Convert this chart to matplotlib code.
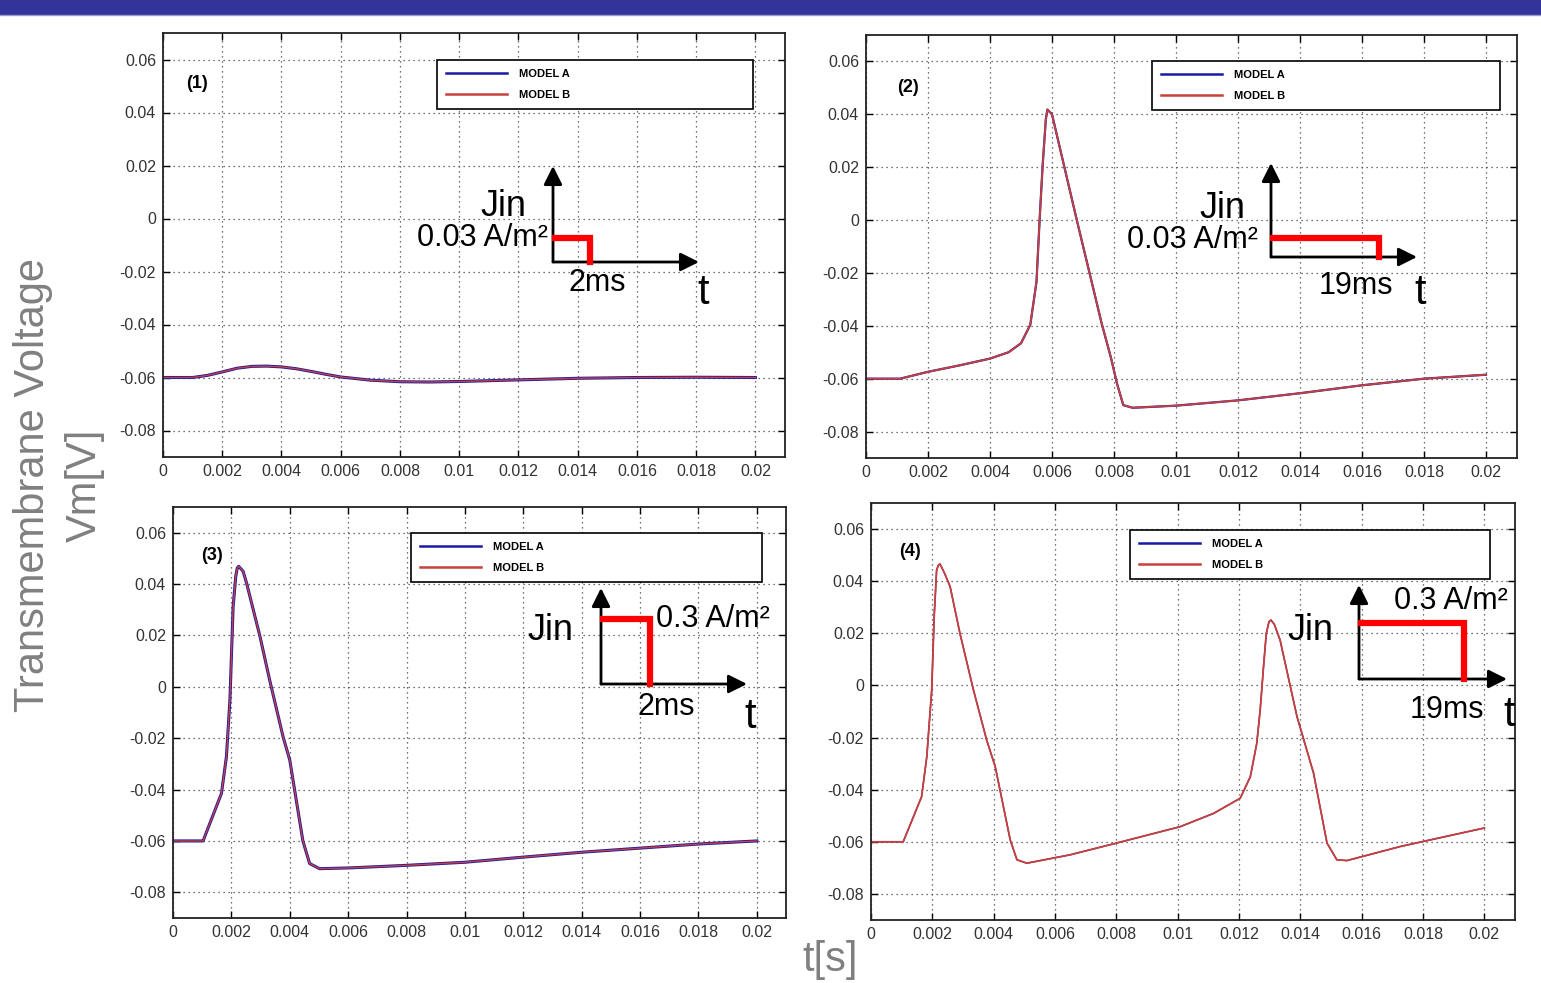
import matplotlib
matplotlib.use('Agg')
import matplotlib.pyplot as plt
from matplotlib.lines import Line2D
from matplotlib.patches import Rectangle, FancyArrowPatch

plt.rcParams['font.family'] = ['Liberation Sans', 'DejaVu Sans']

W, H = 1541, 983

# ---- data (t in s, Vm in V) ----
t1 = [0, 0.001, 0.0015, 0.002, 0.0025, 0.003, 0.0035, 0.004, 0.0045, 0.005, 0.0055,
      0.006, 0.007, 0.008, 0.009, 0.010, 0.011, 0.012, 0.013, 0.014, 0.016, 0.018, 0.020]
v1 = [-0.060, -0.060, -0.0592, -0.0579, -0.0565, -0.0558, -0.0557, -0.0560, -0.0567,
      -0.0577, -0.0588, -0.0598, -0.0610, -0.0616, -0.0617, -0.0615, -0.0612, -0.0609,
      -0.0606, -0.0603, -0.0600, -0.0599, -0.0600]

t2 = [0, 0.0011, 0.002, 0.003, 0.004, 0.0046, 0.005, 0.0053, 0.0055, 0.0056, 0.0057,
      0.0058, 0.00585, 0.0060, 0.0068, 0.0076, 0.0079, 0.0081, 0.0083, 0.0086, 0.010,
      0.012, 0.014, 0.016, 0.018, 0.020]
v2 = [-0.060, -0.060, -0.0574, -0.0550, -0.0524, -0.0500, -0.0466, -0.0396, -0.0233,
      0.0, 0.021, 0.038, 0.0418, 0.0400, 0.0, -0.0390, -0.0520, -0.0620, -0.0700,
      -0.0710, -0.0702, -0.0682, -0.0655, -0.0625, -0.0600, -0.0585]

t3 = [0, 0.00103, 0.00166, 0.00183, 0.00195, 0.00206, 0.00215, 0.0022, 0.00225, 0.0024,
      0.00252, 0.00298, 0.00331, 0.00377, 0.0040, 0.00445, 0.00468, 0.00502, 0.00604,
      0.008, 0.010, 0.012, 0.014, 0.016, 0.018, 0.020]
v3 = [-0.060, -0.060, -0.0415, -0.0272, -0.0051, 0.0312, 0.0430, 0.0462, 0.0469, 0.0450,
      0.0404, 0.0196, 0.0027, -0.0194, -0.0285, -0.0600, -0.0688, -0.0708, -0.0705,
      -0.0695, -0.0683, -0.0663, -0.0644, -0.0628, -0.0612, -0.0600]

t4 = [0, 0.00105, 0.00165, 0.00182, 0.00198, 0.00206, 0.00214, 0.0022, 0.00225, 0.0024,
      0.00258, 0.0029, 0.00334, 0.00377, 0.00405, 0.00454, 0.00476, 0.00508, 0.00649,
      0.0080, 0.01008, 0.01117, 0.01204, 0.01237, 0.01258, 0.01269, 0.0128, 0.01289,
      0.01298, 0.01304, 0.01315, 0.01334, 0.01389, 0.01443, 0.01487, 0.01519, 0.01552,
      0.01726, 0.020]
v4 = [-0.060, -0.060, -0.0427, -0.0273, -0.0017, 0.0264, 0.0443, 0.0462, 0.0466, 0.0430,
      0.0379, 0.0200, -0.0017, -0.0209, -0.0311, -0.0593, -0.0669, -0.0682, -0.0650,
      -0.0605, -0.0542, -0.0491, -0.0433, -0.0350, -0.0222, -0.0095, 0.0072, 0.0200,
      0.0245, 0.0251, 0.0235, 0.0174, -0.0119, -0.0336, -0.0605, -0.0669, -0.0672,
      -0.0618, -0.0547]

xticks = [0, 0.002, 0.004, 0.006, 0.008, 0.01, 0.012, 0.014, 0.016, 0.018, 0.02]
xticklabels = ['0', '0.002', '0.004', '0.006', '0.008', '0.01', '0.012', '0.014',
               '0.016', '0.018', '0.02']
yticks = [-0.08, -0.06, -0.04, -0.02, 0, 0.02, 0.04, 0.06]
yticklabels = ['-0.08', '-0.06', '-0.04', '-0.02', '0', '0.02', '0.04', '0.06']

panel_labels = ['(1)', '(2)', '(3)', '(4)']
series_names = ['MODEL A', 'MODEL B']


def fx(x):
    return x / W


def fy(y):
    return 1 - y / H


fig = plt.figure(figsize=(W / 100, H / 100), dpi=100)

# top banner
fig.add_artist(Rectangle((0, fy(14)), 1, 14 / H, transform=fig.transFigure,
                         color='#333399', zorder=0))
fig.add_artist(Line2D([0, 1], [fy(15), fy(15)], transform=fig.transFigure,
                      color='#9999cc', lw=1))

# axes boxes in pixels: left, right, top, bottom
boxes = [(163, 785, 33, 457), (866, 1517, 35, 458),
         (173, 786, 507, 918), (871, 1515, 503, 920)]
legend_boxes = [(437, 753, 60, 110), (1152, 1500, 61, 114),
                (411, 762, 533, 588), (1130, 1490, 530, 585)]
label_pos = [(197, 83), (908, 87), (212, 555), (910, 552)]
data = [(t1, v1), (t2, v2), (t3, v3), (t4, v4)]
lw_a = [2.2, 1.6, 2.2, 1.0]
lw_b = [1.0, 1.3, 1.0, 1.3]

for i in range(4):
    l, r, t, b = boxes[i]
    ax = fig.add_axes([fx(l), fy(b), (r - l) / W, (b - t) / H])
    tt, vv = data[i]
    ax.plot(tt, vv, color='#1a1aa6', lw=lw_a[i], label=series_names[0])
    ax.plot(tt, vv, color='#c8403c', lw=lw_b[i], label=series_names[1])
    ax.set_xlim(0, 0.021)
    ax.set_ylim(-0.09, 0.07)
    ax.set_xticks(xticks)
    ax.set_xticklabels(xticklabels)
    ax.set_yticks(yticks)
    ax.set_yticklabels(yticklabels)
    ax.tick_params(direction='in', top=True, right=True, length=5, width=1,
                   labelsize=11.5, labelcolor='#333333', pad=5)
    ax.grid(True, color='#444444', linestyle=(0, (1, 3)), lw=0.9)
    for s in ax.spines.values():
        s.set_linewidth(1.3)
        s.set_color('#222222')
    ll, lr, lt, lb = legend_boxes[i]
    leg = ax.legend(loc='upper left',
                    bbox_to_anchor=(fx(ll), fy(lb), (lr - ll) / W, (lb - lt) / H),
                    bbox_transform=fig.transFigure, mode='expand', borderaxespad=0,
                    fancybox=False, framealpha=1, edgecolor='black',
                    prop={'size': 8, 'weight': 'bold'}, handlelength=5.5,
                    handletextpad=1.1, labelspacing=1.0, borderpad=0.8)
    leg.get_frame().set_linewidth(1.2)
    for h in leg.get_lines():
        h.set_linewidth(1.8)
    px, py = label_pos[i]
    fig.text(fx(px), fy(py), panel_labels[i], fontsize=13, fontweight='bold',
             ha='center', va='center')

# axis titles
fig.text(fx(33), fy(485), 'Transmembrane Voltage', rotation=90, fontsize=30,
         color='#808080', ha='center', va='center')
fig.text(fx(85), fy(485), 'Vm[V]', rotation=90, fontsize=30,
         color='#808080', ha='center', va='center')
fig.text(fx(830), fy(960), 't[s]', fontsize=30, color='#808080',
         ha='center', va='center')


# current pulse sketches
def arrow(x0, y0, x1, y1):
    fig.add_artist(FancyArrowPatch(
        (fx(x0), fy(y0)), (fx(x1), fy(y1)), transform=fig.transFigure,
        arrowstyle='-|>', mutation_scale=28, lw=2, color='black',
        shrinkA=0, shrinkB=0))


def pulse(ox, oy, top, xt, yt, xend):
    arrow(ox, oy, ox, yt)
    arrow(ox, oy, xt, oy)
    fig.add_artist(Line2D([fx(ox + 2), fx(xend), fx(xend)], [fy(top), fy(top), fy(oy)],
                          transform=fig.transFigure, color='#ff0000', lw=4.5,
                          solid_joinstyle='miter'))


pulse(553, 262, 238, 699, 166, 590)
pulse(1271, 257, 238, 1417, 163, 1379)
pulse(601, 684, 619, 747, 588, 650)
pulse(1359, 679, 623, 1507, 585, 1464)

txt = dict(color='black', ha='center', va='center')
fig.text(fx(503), fy(207), 'Jin', fontsize=26, **txt)
fig.text(fx(548), fy(238), '0.03 A/m²', fontsize=22, color='black', ha='right', va='center')
fig.text(fx(597), fy(283), '2ms', fontsize=22, **txt)
fig.text(fx(703), fy(293), 't', fontsize=30, **txt)

fig.text(fx(1222), fy(209), 'Jin', fontsize=26, **txt)
fig.text(fx(1258), fy(240), '0.03 A/m²', fontsize=22, color='black', ha='right', va='center')
fig.text(fx(1356), fy(286), '19ms', fontsize=22, **txt)
fig.text(fx(1420), fy(293), 't', fontsize=30, **txt)

fig.text(fx(550), fy(630), 'Jin', fontsize=26, **txt)
fig.text(fx(656), fy(619), '0.3 A/m²', fontsize=22, color='black', ha='left', va='center')
fig.text(fx(666), fy(707), '2ms', fontsize=22, **txt)
fig.text(fx(750), fy(717), 't', fontsize=30, **txt)

fig.text(fx(1310), fy(631), 'Jin', fontsize=26, **txt)
fig.text(fx(1451), fy(601), '0.3 A/m²', fontsize=22, **txt)
fig.text(fx(1447), fy(710), '19ms', fontsize=22, **txt)
fig.text(fx(1509), fy(715), 't', fontsize=30, **txt)

fig.savefig('out.png', dpi=100, facecolor='white')
